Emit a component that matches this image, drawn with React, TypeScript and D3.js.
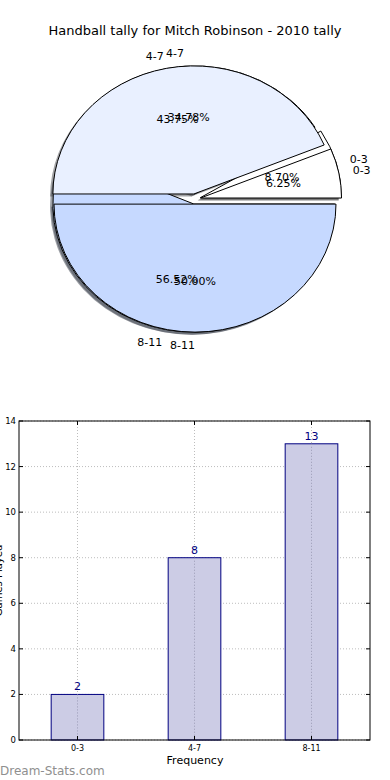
import React from "react";
import * as d3 from "d3";

const categories = ["0-3", "4-7", "8-11"];
const pieSeriesA = [2, 8, 13];
const pieSeriesB = [1, 7, 8];
const barValues = [2, 8, 13];
const yTicks = [0, 2, 4, 6, 8, 10, 12, 14];
const sliceColors = ["#ffffff", "#e9f0ff", "#c6d9ff"];

const FONT = "DejaVu Sans, sans-serif";

export default function App() {
  const W = 390, H = 780;
  const cx = 195, cy = 199, rx = 141, ry = 128, explode = 0.04;

  const pieGen = d3
    .pie<number>()
    .sort(null)
    .startAngle(Math.PI / 2)
    .endAngle(Math.PI / 2 - 2 * Math.PI);
  const arcGen = d3.arc<any>().innerRadius(0).outerRadius(1);

  const buildPie = (vals: number[]) => {
    const total = d3.sum(vals);
    return pieGen(vals).map((a, i) => {
      const m = (a.startAngle + a.endAngle) / 2;
      const ux = Math.sin(m), uy = -Math.cos(m);
      const ox = cx + ux * explode * rx;
      const oy = cy + uy * explode * ry;
      return {
        i,
        a,
        path: arcGen({ ...a, innerRadius: 0, outerRadius: 1 }) as string,
        ox, oy, ux, uy,
        pct: ((vals[i] / total) * 100).toFixed(2) + "%",
      };
    });
  };
  const pies = [buildPie(pieSeriesA), buildPie(pieSeriesB)];

  const shadowColor = (c: string) => {
    const r = d3.rgb(c);
    return d3.rgb(r.r * 0.3, r.g * 0.3, r.b * 0.3).toString();
  };

  // Bar chart
  const left = 19, right = 370, top = 421, bottom = 740;
  const x = d3.scaleLinear().domain([-0.5, 2.5]).range([left, right]);
  const y = d3.scaleLinear().domain([0, 14]).range([bottom, top]);
  const bw = 0.45;

  return (
    <svg
      width={W}
      height={H}
      style={{ position: "absolute", left: 0, top: 0, background: "#fff" }}
      fontFamily={FONT}
    >
      <rect x={0} y={0} width={W} height={H} fill="#fff" />
      <text x={195} y={35} textAnchor="middle" fontSize={13} fill="#000">
        Handball tally for Mitch Robinson - 2010 tally
      </text>

      {/* shadows */}
      {pies.map((p, pi) =>
        p.map((s) => (
          <path
            key={`sh${pi}-${s.i}`}
            d={s.path}
            transform={`translate(${s.ox - 0.02 * rx},${s.oy + 0.02 * ry}) scale(${rx},${ry})`}
            fill={shadowColor(sliceColors[s.i])}
            fillOpacity={0.5}
            stroke="none"
          />
        ))
      )}
      {/* wedges */}
      {pies.map((p, pi) =>
        p.map((s) => (
          <path
            key={`w${pi}-${s.i}`}
            d={s.path}
            transform={`translate(${s.ox},${s.oy}) scale(${rx},${ry})`}
            fill={sliceColors[s.i]}
            stroke="#000"
            strokeWidth={1}
            vectorEffect="non-scaling-stroke"
            strokeLinejoin="miter"
          />
        ))
      )}
      {/* labels */}
      {pies.map((p, pi) =>
        p.map((s) => (
          <g key={`l${pi}-${s.i}`} fontSize={11} fill="#000">
            <text
              x={s.ox + s.ux * 1.1 * rx}
              y={s.oy + s.uy * 1.1 * ry}
              dy="0.35em"
              textAnchor={s.ux > 0 ? "start" : "end"}
            >
              {categories[s.i]}
            </text>
            <text
              x={s.ox + s.ux * 0.6 * rx}
              y={s.oy + s.uy * 0.6 * ry}
              dy="0.35em"
              textAnchor="middle"
            >
              {s.pct}
            </text>
          </g>
        ))
      )}

      {/* bar chart grid */}
      {yTicks.map((t) => (
        <line
          key={`gy${t}`}
          x1={left}
          x2={right}
          y1={y(t)}
          y2={y(t)}
          stroke="#bdbdbd"
          strokeDasharray="1 2"
        />
      ))}
      {categories.map((c, i) => (
        <line
          key={`gx${c}`}
          x1={x(i)}
          x2={x(i)}
          y1={top}
          y2={bottom}
          stroke="#bdbdbd"
          strokeDasharray="1 2"
        />
      ))}
      {barValues.map((v, i) => (
        <g key={`b${i}`}>
          <rect
            x={x(i - bw / 2)}
            y={y(v)}
            width={x(i + bw / 2) - x(i - bw / 2)}
            height={y(0) - y(v)}
            fill="#ccccE5"
            stroke="#000080"
            strokeWidth={1}
          />
          <line x1={x(i)} x2={x(i)} y1={y(v)} y2={bottom} stroke="#9a9ab5" strokeDasharray="1 2" />
          <text
            x={x(i)}
            y={y(v) - 4}
            textAnchor="middle"
            fontSize={11}
            fill="#000080"
          >
            {v}
          </text>
        </g>
      ))}
      {/* frame */}
      <rect x={left} y={top} width={right - left} height={bottom - top} fill="none" stroke="#000" strokeWidth={1} />
      {/* ticks */}
      {yTicks.map((t) => (
        <g key={`ty${t}`}>
          <line x1={left} x2={left + 4} y1={y(t)} y2={y(t)} stroke="#000" />
          <line x1={right - 4} x2={right} y1={y(t)} y2={y(t)} stroke="#000" />
          <text x={left - 3} y={y(t)} dy="0.35em" textAnchor="end" fontSize={8.5} fill="#000">
            {t}
          </text>
        </g>
      ))}
      {categories.map((c, i) => (
        <g key={`tx${c}`}>
          <line x1={x(i)} x2={x(i)} y1={bottom} y2={bottom - 4} stroke="#000" />
          <line x1={x(i)} x2={x(i)} y1={top} y2={top + 4} stroke="#000" />
          <text x={x(i)} y={bottom + 11} textAnchor="middle" fontSize={8} fill="#000">
            {c}
          </text>
        </g>
      ))}
      <text x={195} y={764} textAnchor="middle" fontSize={11} fill="#000">
        Frequency
      </text>
      <text
        transform={`translate(1.5,${(top + bottom) / 2}) rotate(-90)`}
        textAnchor="middle"
        fontSize={10}
        fill="#000"
      >
        Games Played
      </text>
      <text x={0} y={775} fontSize={12} fill="#8f8f8f">
        Dream-Stats.com
      </text>
    </svg>
  );
}
